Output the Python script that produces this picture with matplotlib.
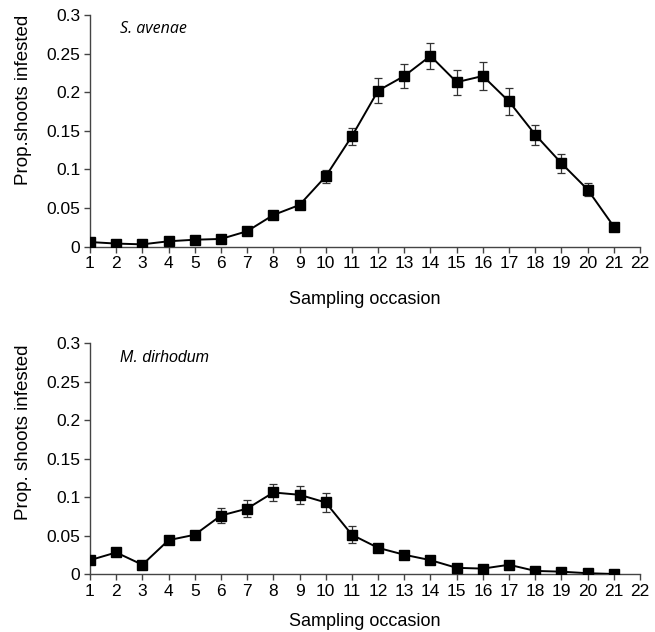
import matplotlib
matplotlib.use("Agg")
import matplotlib.pyplot as plt

occasions = list(range(1, 22))
avenae_mean = [0.006, 0.004, 0.003, 0.007, 0.009, 0.010, 0.020, 0.041, 0.054, 0.091,
               0.143, 0.202, 0.221, 0.247, 0.213, 0.221, 0.188, 0.145, 0.108, 0.074, 0.026]
avenae_err = [0.001, 0.001, 0.001, 0.001, 0.001, 0.002, 0.003, 0.004, 0.005, 0.008,
              0.011, 0.016, 0.015, 0.017, 0.016, 0.018, 0.017, 0.013, 0.012, 0.009, 0.002]
dirhodum_mean = [0.018, 0.028, 0.012, 0.044, 0.051, 0.076, 0.085, 0.106, 0.103, 0.093,
                 0.051, 0.034, 0.025, 0.018, 0.008, 0.007, 0.012, 0.004, 0.003, 0.001, 0.000]
dirhodum_err = [0.003, 0.003, 0.002, 0.004, 0.004, 0.010, 0.011, 0.011, 0.012, 0.012,
                0.011, 0.004, 0.003, 0.003, 0.002, 0.002, 0.003, 0.001, 0.001, 0.001, 0.000]
yticks = [0, 0.05, 0.1, 0.15, 0.2, 0.25, 0.3]
ytick_labels = ["0", "0.05", "0.1", "0.15", "0.2", "0.25", "0.3"]
xticks = list(range(1, 23))

plt.rcParams['font.family'] = ['Liberation Sans', 'DejaVu Sans']

fig = plt.figure(figsize=(6.55, 6.32), dpi=100)
ax1 = fig.add_axes([0.1374, 0.6097, 0.8397, 0.3666])
ax2 = fig.add_axes([0.1374, 0.0918, 0.8397, 0.3650])

panels = [
    (ax1, avenae_mean, avenae_err, "S. avenae", "Prop.shoots infested", 11.5,
     ['Open Sans', 'DejaVu Sans'], 0.634, 14),
    (ax2, dirhodum_mean, dirhodum_err, "M. dirhodum", "Prop. shoots infested", 11.5,
     ['Liberation Sans', 'DejaVu Sans'], 0.615, 10.5),
]

for ax, mean, err, name, ylab, nsize, nfam, ylab_y, xpad in panels:
    ax.errorbar(occasions, mean, yerr=err, color='black', lw=1.4,
                marker='s', markersize=6.5, ecolor='#333333', elinewidth=0.9,
                capsize=3, capthick=0.9, zorder=3)
    ax.set_xlim(1, 22)
    ax.set_ylim(0, 0.3)
    ax.set_xticks(xticks)
    ax.set_yticks(yticks)
    ax.set_yticklabels(ytick_labels)
    for s in ['top', 'right']:
        ax.spines[s].set_visible(False)
    for s in ['left', 'bottom']:
        ax.spines[s].set_color('#444444')
        ax.spines[s].set_linewidth(1.0)
    ax.tick_params(direction='out', length=4, width=1.0, color='#444444',
                   labelsize=12.5, pad=3)
    ax.set_ylabel(ylab, fontsize=13.5, labelpad=6)
    ax.yaxis.set_label_coords(-0.105, ylab_y)
    ax.set_xlabel("Sampling occasion", fontsize=13, labelpad=xpad)
    ax.text(2.15, 0.282, name, fontsize=nsize, style='italic', va='center', ha='left',
            family=nfam)
    ax.margins(0)

fig.savefig("out.png", dpi=100)
